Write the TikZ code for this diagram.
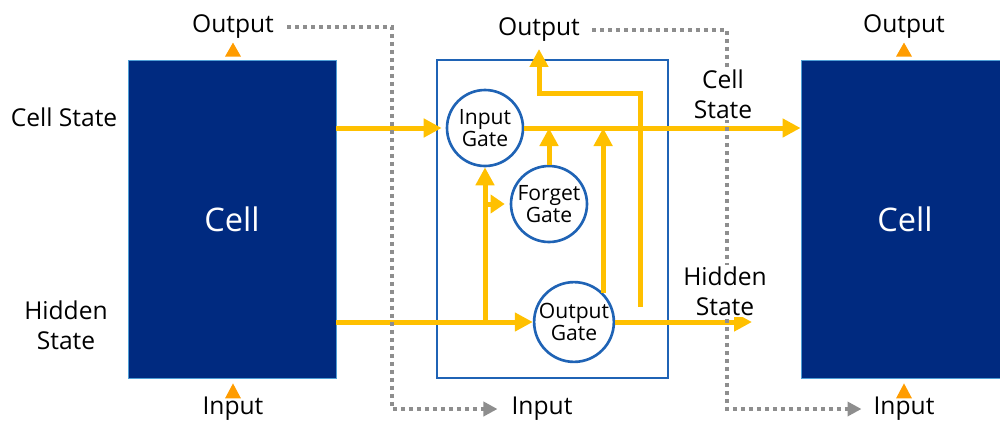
\documentclass[tikz,border=0pt]{standalone}
\usepackage{fontspec}
\setmainfont{Open Sans}
\usetikzlibrary{arrows.meta, calc, positioning}
\definecolor{cellnavy}{HTML}{002A80}
\definecolor{celledge}{HTML}{4F9FD6}
\definecolor{gateblue}{HTML}{1F63B5}
\definecolor{flowyellow}{HTML}{FFC000}
\definecolor{tiporange}{HTML}{FF9C00}
\definecolor{linkgray}{HTML}{8E8E8E}
\tikzset{
        >={Triangle[length=0.36cm, width=0.36cm]}, % solid heads on the state lines
        cell/.style={draw=celledge, line width=0.5pt, fill=cellnavy, text=white,
                     minimum width=4.16cm, minimum height=6.36cm, font=\fontsize{18.5}{22}\selectfont},
        gate/.style={circle, draw=gateblue, line width=1.5pt, minimum size=1.52cm, inner sep=0pt,
                     align=center, font=\fontsize{12}{13}\selectfont},
        flow/.style={->, draw=flowyellow, line width=0.1cm},
        link/.style={-{Triangle[length=0.28cm, width=0.28cm]}, draw=linkgray, line width=0.08cm,
                     dash pattern=on 0.08cm off 0.08cm}, % dotted time links
        lbl/.style={inner sep=1pt, align=center, font=\fontsize{14}{17}\selectfont}
        }

\begin{document}
\begin{tikzpicture}[x=0.02cm, y=-0.02cm]
        \useasboundingbox (0,0) rectangle (1000,423);
        \node[cell](lcell) at (232,219){Cell};
        \node[cell](rcell) at (905,219){Cell};
        \node[draw=gateblue, line width=1.1pt, minimum width=4.62cm, minimum height=6.36cm](unit) at (552.5,219){};
        \node[gate](ingate) at (485,128){Input\\Gate};
        \node[gate](fgate) at (549,204){Forget\\Gate};
        \node[gate](outgate) at (574,322){Output\\Gate};

        \node[lbl](lout) at (233,27){Output};
        \node[lbl](lin) at (233,409){Input};
        \node[lbl](mout) at (539,30){Output};
        \node[lbl](min) at (542,409){Input};
        \node[lbl](rout) at (904,27){Output};
        \node[lbl](rin) at (904,409){Input};
        \node[lbl](lcs) at (64,117){Cell State};
        \node[lbl](lhs) at (66,325){Hidden\\State};

        % small in/out markers on the cells
        \fill[tiporange] ($(lcell.north)+(-7,-3)$) -- ++(16,0) -- ++(-8,-14) -- cycle;
        \fill[tiporange] ($(lcell.south)+(-7,20)$) -- ++(16,0) -- ++(-8,-15) -- cycle;
        \fill[tiporange] ($(rcell.north)+(-9,-3)$) -- ++(16,0) -- ++(-8,-14) -- cycle;
        \fill[tiporange] ($(rcell.south)+(-9,20)$) -- ++(16,0) -- ++(-8,-15) -- cycle;

        \coordinate (tap) at (640,307);
        \coordinate (turn) at (539,93);
        \coordinate (hout) at (752,322);
        \draw[flow, shorten >=0.08cm] (lcell.east |- ingate) -- (ingate);
        \draw[flow] (ingate) -- (rcell.west |- ingate);
        \draw[flow] (lcell.east |- outgate) -- (outgate);
        \draw[flow] (ingate.south |- outgate) -- (ingate.south);
        \draw[flow, -{Triangle[length=0.28cm, width=0.36cm]}, shorten >=0.1cm] (ingate.south |- fgate) -- (fgate);
        \draw[flow] (fgate) -- (fgate |- ingate);
        \draw[flow] (outgate.north east) -- (outgate.north east |- ingate);
        \draw[flow, shorten >=0.1cm] (tap) |- (turn) -- (mout.south);
        \draw[flow] (outgate) -- (hout);

        \coordinate (lj) at (392,0);
        \coordinate (rj) at (727,0);
        \draw[link, shorten <=0.22cm, shorten >=0.24cm] (lout.east) -| (lj |- min.west) -- (min.west);
        \draw[link, shorten <=0.2cm, shorten >=0.2cm] (mout.east) -| (rj |- rin.west) -- (rin.west);

        \node[lbl, fill=white](rcs) at (723,94){Cell\\State};
        \node[lbl, fill=white](rhs) at (725,291){Hidden\\State};
\end{tikzpicture}
\end{document}
